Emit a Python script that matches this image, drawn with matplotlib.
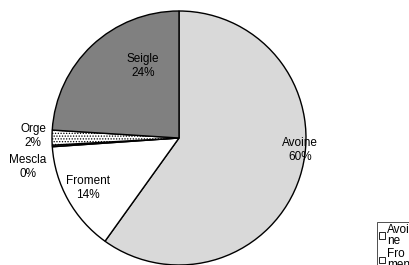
import matplotlib
matplotlib.use("Agg")
import matplotlib.pyplot as plt
from matplotlib.patches import Patch

plt.rcParams['font.family'] = ['Liberation Sans', 'DejaVu Sans']
plt.rcParams['hatch.linewidth'] = 0.6

categories = ["Avoine", "Froment", "Mescla", "Orge", "Seigle"]
values = [59.9, 14.0, 0.2, 1.9, 24.0]
pct_labels = ["60%", "14%", "0%", "2%", "24%"]
legend_labels = ["Avoi\nne", "Fro\nmen", "Mes\ncla", "Org\ne", "Seig\nle"]

colors = ["#D9D9D9", "#FFFFFF", "#FFFFFF", "#FFFFFF", "#808080"]
hatches = [None, None, None, "......", None]

W, H = 410, 265
fig = plt.figure(figsize=(W / 100, H / 100), dpi=100)
ax = fig.add_axes([0, 0, 1, 1])

cx, cy, r = 179, H - 138, 127
wedges, _ = ax.pie(values, colors=colors, startangle=90, counterclock=False,
                   center=(cx, cy), radius=r, frame=True,
                   wedgeprops=dict(edgecolor="black", linewidth=1.0))
for w, h in zip(wedges, hatches):
    if h:
        w.set_hatch(h)
ax.set_xlim(0, W)
ax.set_ylim(0, H)
ax.set_aspect('equal')
ax.axis('off')

# label positions (pixel layout, y from top)
label_pos = [(300, 150), (88, 188), (28, 167), (33, 136), (143, 66)]
for cat, pct, (lx, ly) in zip(categories, pct_labels, label_pos):
    ax.text(lx, H - ly, f"{cat}\n{pct}", ha="center", va="center",
            fontsize=8.5, color="black", linespacing=1.15)

handles = [Patch(facecolor="white", edgecolor="black", linewidth=0.6, hatch=h)
           for h in hatches]
leg = fig.legend(handles, legend_labels, loc="upper left",
                 bbox_to_anchor=(377 / W, 1 - 222 / H), frameon=True,
                 prop={'size': 8.5}, handlelength=0.5, handleheight=0.5,
                 handletextpad=0.2, borderpad=0.15, labelspacing=0.05,
                 borderaxespad=0, fancybox=False)
leg.get_frame().set_edgecolor("black")
leg.get_frame().set_linewidth(0.6)
for t in leg.get_texts():
    t.set_linespacing(0.95)

fig.savefig("out.png", dpi=100)
